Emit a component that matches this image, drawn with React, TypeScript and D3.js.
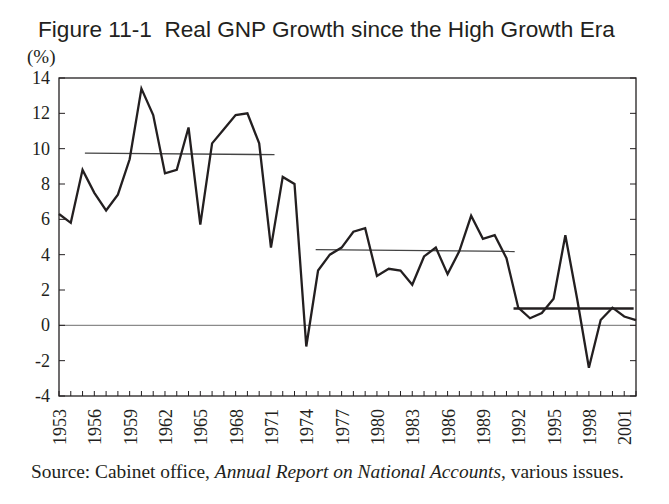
import React from "react";
import * as d3 from "d3";

const years: number[] = d3.range(1953, 2003);
const growth: number[] = [
  6.3, 5.8, 8.8, 7.5, 6.5, 7.4, 9.4, 13.4, 11.9, 8.6,
  8.8, 11.2, 5.7, 10.3, 11.1, 11.9, 12.0, 10.3, 4.4, 8.4,
  8.0, -1.2, 3.1, 4.0, 4.4, 5.3, 5.5, 2.8, 3.2, 3.1,
  2.3, 3.9, 4.4, 2.9, 4.2, 6.2, 4.9, 5.1, 3.8, 1.0,
  0.4, 0.7, 1.5, 5.1, 1.5, -2.4, 0.3, 1.0, 0.5, 0.3,
];
const avgStart: number[] = [1955.2, 1974.8, 1991.6];
const avgEnd: number[] = [1971.3, 1991.7, 2001.8];
const avgStartValue: number[] = [9.75, 4.28, 0.95];
const avgEndValue: number[] = [9.66, 4.18, 0.95];
const avgWidth: number[] = [1.3, 1.3, 2.6];
const yTicks: number[] = d3.range(-4, 15, 2);
const xLabelYears: number[] = d3.range(1953, 2002, 3);

const W = 669;
const H = 504;
const left = 59;
const right = 636;
const top = 78;
const bottom = 396;

export default function App() {
  const x = d3.scaleLinear().domain([1953, 2002]).range([left, right]);
  const y = d3.scaleLinear().domain([-4, 14]).range([bottom, top]);
  const line = d3
    .line<number>()
    .x((_, i) => x(years[i]))
    .y((d) => y(d));
  const serif = "'Liberation Serif', 'Times New Roman', serif";
  const ink = "#231f20";
  return (
    <svg
      width={W}
      height={H}
      style={{ position: "absolute", left: 0, top: 0, background: "#fff" }}
    >
      <text
        x={38}
        y={37}
        fontFamily="'Liberation Sans', Arial, sans-serif"
        fontSize={22.6}
        fill={ink}
      >
        Figure 11-1{"\u00a0\u00a0"}Real GNP Growth since the High Growth Era
      </text>
      <text x={27} y={63} fontFamily={serif} fontSize={19} fill={ink}>
        (%)
      </text>
      {/* zero line */}
      <line
        x1={left}
        x2={right}
        y1={y(0)}
        y2={y(0)}
        stroke="#8a8a8a"
        strokeWidth={1.4}
      />
      {/* averages */}
      {avgStart.map((s, i) => (
        <line
          key={"avg" + i}
          x1={x(s)}
          x2={x(avgEnd[i])}
          y1={y(avgStartValue[i])}
          y2={y(avgEndValue[i])}
          stroke={i === 2 ? ink : "#444"}
          strokeWidth={avgWidth[i]}
        />
      ))}
      <path
        d={line(growth) || ""}
        fill="none"
        stroke={ink}
        strokeWidth={2.3}
        strokeLinejoin="miter"
      />
      {/* frame */}
      <rect
        x={left}
        y={top}
        width={right - left}
        height={bottom - top}
        fill="none"
        stroke={ink}
        strokeWidth={1.3}
      />
      {yTicks.map((t) => (
        <g key={"yt" + t}>
          <line x1={left} x2={left + 6} y1={y(t)} y2={y(t)} stroke={ink} strokeWidth={1} />
          <line x1={right} x2={right - 6} y1={y(t)} y2={y(t)} stroke={ink} strokeWidth={1} />
          <text
            x={50}
            y={y(t)}
            textAnchor="end"
            dominantBaseline="central"
            fontFamily={serif}
            fontSize={18}
            fill={ink}
          >
            {t}
          </text>
        </g>
      ))}
      {years.map((yr) => (
        <line
          key={"xt" + yr}
          x1={x(yr)}
          x2={x(yr)}
          y1={bottom}
          y2={bottom - 5}
          stroke={ink}
          strokeWidth={1}
        />
      ))}
      {xLabelYears.map((yr) => (
        <text
          key={"xl" + yr}
          transform={`translate(${x(yr) + 1},${bottom + 13}) rotate(-90)`}
          textAnchor="end"
          dominantBaseline="central"
          fontFamily={serif}
          fontSize={18}
          fill={ink}
        >
          {yr}
        </text>
      ))}
      <text x={31} y={478} fontFamily={serif} fontSize={19.4} fill={ink}>
        Source: Cabinet office, <tspan fontStyle="italic">Annual Report on National Accounts</tspan>, various issues.
      </text>
    </svg>
  );
}
